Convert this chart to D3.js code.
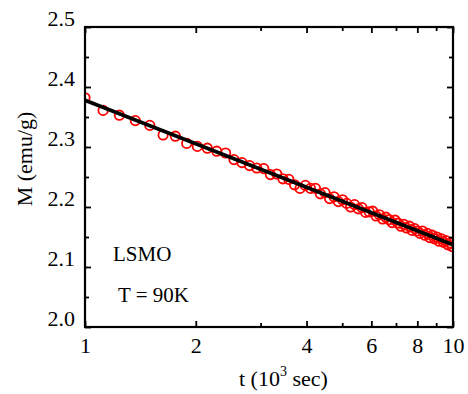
<!DOCTYPE html>
<html>
<head>
<meta charset="utf-8">
<script src="https://cdn.jsdelivr.net/npm/d3@7"></script>
<style>
  body { margin: 0; background: #fff; }
  svg { display: block; }
  text { font-family: "Liberation Serif", "Times New Roman", serif; fill: #000; }
</style>
</head>
<body>
<div class="chart"></div>
<script>
// measured magnetization relaxation (t in 10^3 sec, M in emu/g)
var tValues = [1.00, 1.12, 1.24, 1.37, 1.50, 1.63, 1.76, 1.89, 2.02, 2.15,
  2.28, 2.41, 2.54, 2.67, 2.80, 2.93, 3.06, 3.19, 3.32, 3.45,
  3.58, 3.71, 3.84, 3.97, 4.10, 4.23, 4.36, 4.49, 4.62, 4.75,
  4.88, 5.01, 5.14, 5.27, 5.40, 5.53, 5.66, 5.79, 5.92, 6.05,
  6.18, 6.31, 6.44, 6.57, 6.70, 6.83, 6.96, 7.09, 7.22, 7.35,
  7.48, 7.61, 7.74, 7.87, 8.00, 8.13, 8.26, 8.39, 8.52, 8.65,
  8.78, 8.91, 9.04, 9.17, 9.30, 9.43, 9.56, 9.69, 9.82, 9.95];
var mValues = [2.382, 2.361, 2.353, 2.344, 2.336, 2.320, 2.318, 2.306, 2.301, 2.298,
  2.293, 2.290, 2.279, 2.274, 2.269, 2.265, 2.264, 2.254, 2.255, 2.247,
  2.246, 2.237, 2.231, 2.236, 2.231, 2.231, 2.222, 2.224, 2.214, 2.217,
  2.209, 2.212, 2.206, 2.200, 2.204, 2.197, 2.199, 2.191, 2.192, 2.193,
  2.185, 2.187, 2.180, 2.183, 2.179, 2.174, 2.178, 2.173, 2.168, 2.171,
  2.165, 2.168, 2.161, 2.164, 2.160, 2.156, 2.160, 2.153, 2.156, 2.149,
  2.153, 2.147, 2.150, 2.143, 2.147, 2.141, 2.144, 2.137, 2.140, 2.134];
// logarithmic fit
var fitT = [1, 10];
var fitM = [2.378, 2.137];

var xMajor = [1, 2, 4, 6, 8, 10];
var xMinor = [3, 5, 7, 9];
var yMajor = [2.0, 2.1, 2.2, 2.3, 2.4, 2.5];
var yMinor = [2.05, 2.15, 2.25, 2.35, 2.45];

const svgWidth = 468, svgHeight = 394;
const plotLeft = 85, plotRight = 453, plotTop = 27, plotBottom = 327;

var svg = d3.select(".chart").append("svg")
    .attr("width", svgWidth).attr("height", svgHeight);

var x = d3.scaleLog().domain([1, 10]).range([plotLeft, plotRight]);
var y = d3.scaleLinear().domain([2.0, 2.5]).range([plotBottom, plotTop]);

svg.append("clipPath").attr("id", "plotclip")
    .append("rect")
    .attr("x", plotLeft).attr("y", plotTop)
    .attr("width", plotRight - plotLeft).attr("height", plotBottom - plotTop);

var plot = svg.append("g").attr("clip-path", "url(#plotclip)");

plot.selectAll("circle")
    .data(tValues)
    .enter().append("circle")
    .attr("cx", function (d) { return x(d); })
    .attr("cy", function (d, i) { return y(mValues[i]); })
    .attr("r", 4.7)
    .attr("fill", "none")
    .attr("stroke", "#ff0000")
    .attr("stroke-width", 1.8);

var fitLine = d3.line()
    .x(function (d) { return x(d); })
    .y(function (d, i) { return y(fitM[i]); });

plot.append("path")
    .datum(fitT)
    .attr("d", fitLine)
    .attr("fill", "none")
    .attr("stroke", "#000")
    .attr("stroke-width", 3.8);

// axes: ticks point inward on all four sides
function styleAxis(g) {
    g.select(".domain").remove();
    g.selectAll("line").attr("stroke", "#000").attr("stroke-width", 1.8);
    g.selectAll("text").style("font-size", "22px")
        .style("font-family", "'Liberation Serif', serif");
}

var bottomMajor = svg.append("g").attr("transform", "translate(0," + plotBottom + ")")
    .call(d3.axisBottom(x).tickValues(xMajor).tickSize(-6).tickPadding(10)
        .tickFormat(function (d) { return d; }));
styleAxis(bottomMajor);
var bottomMinor = svg.append("g").attr("transform", "translate(0," + plotBottom + ")")
    .call(d3.axisBottom(x).tickValues(xMinor).tickSize(-4).tickFormat(""));
styleAxis(bottomMinor);

var topMajor = svg.append("g").attr("transform", "translate(0," + plotTop + ")")
    .call(d3.axisTop(x).tickValues(xMajor).tickSize(-6).tickFormat(""));
styleAxis(topMajor);
var topMinor = svg.append("g").attr("transform", "translate(0," + plotTop + ")")
    .call(d3.axisTop(x).tickValues(xMinor).tickSize(-4).tickFormat(""));
styleAxis(topMinor);

var leftMajor = svg.append("g").attr("transform", "translate(" + plotLeft + ",0)")
    .call(d3.axisLeft(y).tickValues(yMajor).tickSize(-6).tickPadding(10)
        .tickFormat(d3.format(".1f")));
styleAxis(leftMajor);
leftMajor.selectAll("text").attr("dy", "-0.08em");
var leftMinor = svg.append("g").attr("transform", "translate(" + plotLeft + ",0)")
    .call(d3.axisLeft(y).tickValues(yMinor).tickSize(-4).tickFormat(""));
styleAxis(leftMinor);

var rightMajor = svg.append("g").attr("transform", "translate(" + plotRight + ",0)")
    .call(d3.axisRight(y).tickValues(yMajor).tickSize(-6).tickFormat(""));
styleAxis(rightMajor);
var rightMinor = svg.append("g").attr("transform", "translate(" + plotRight + ",0)")
    .call(d3.axisRight(y).tickValues(yMinor).tickSize(-4).tickFormat(""));
styleAxis(rightMinor);

// frame
svg.append("rect")
    .attr("x", plotLeft).attr("y", plotTop)
    .attr("width", plotRight - plotLeft).attr("height", plotBottom - plotTop)
    .attr("fill", "none")
    .attr("stroke", "#000")
    .attr("stroke-width", 2.2);

// axis titles
var xTitle = svg.append("text")
    .attr("x", 239).attr("y", 386)
    .style("font-size", "22px");
xTitle.append("tspan").text("t (10");
xTitle.append("tspan").attr("dy", -10).style("font-size", "14px").text("3");
xTitle.append("tspan").attr("dy", 10).text(" sec)");

svg.append("text")
    .attr("transform", "translate(32,159) rotate(-90)")
    .style("text-anchor", "middle")
    .style("font-size", "22px")
    .text("M (emu/g)");

// annotations
svg.append("text").attr("x", 113).attr("y", 261)
    .style("font-size", "21px").text("LSMO");
svg.append("text").attr("x", 118).attr("y", 302)
    .style("font-size", "21px").text("T = 90K");
</script>
</body>
</html>
